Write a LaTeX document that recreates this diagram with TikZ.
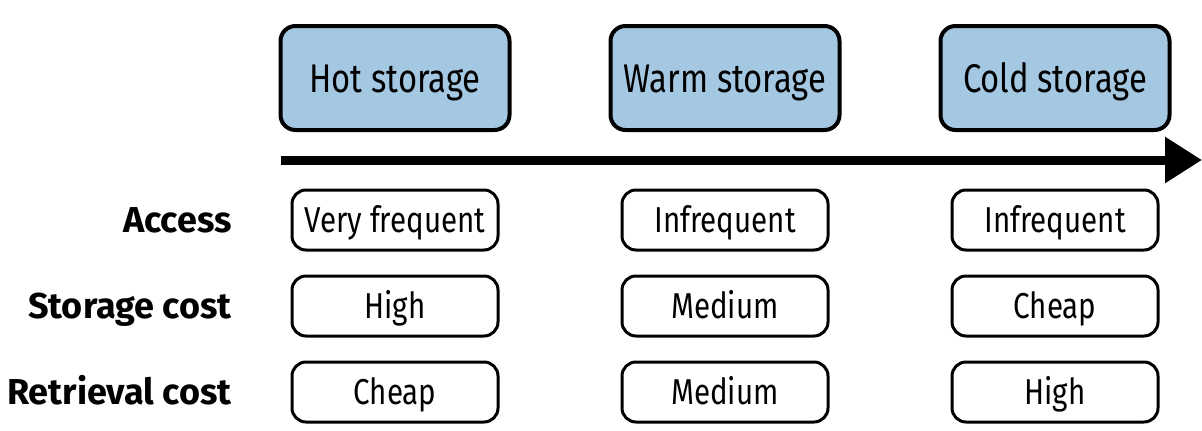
\documentclass[tikz,border=0pt]{standalone}
\usepackage{fontspec}
\setmainfont{Fira Sans}[FakeStretch=0.82]
\newfontfamily\labelfont{Fira Sans}
\usetikzlibrary{arrows.meta,positioning}
\definecolor{tierblue}{RGB}{164,200,226}

\begin{document}
\begin{tikzpicture}[x=1pt,y=-1pt,
    tier/.style={draw,fill=tierblue,line width=4pt,rounded corners=15pt,
      minimum width=229pt,minimum height=104pt,text height=28pt,text depth=0pt,
      font=\fontsize{40}{48}\selectfont},
    cell/.style={draw,line width=3pt,rounded corners=14pt,
      minimum width=206pt,minimum height=60pt,text height=25pt,text depth=0pt,
      font=\fontsize{36}{43}\selectfont},
    rowlabel/.style={anchor=east,inner sep=0pt,text height=25pt,text depth=0pt,
      font=\fontsize{36}{43}\labelfont\bfseries}]
    \useasboundingbox (0,0) rectangle (1202,431);
    % storage tiers
    \foreach \name/\x/\txt in {hot/395/Hot storage,warm/725/Warm storage,cold/1055/Cold storage}
      \node[tier] (\name) at (\x,78) {\txt};
    \coordinate (axisstart) at (281,160);
    \coordinate (axisend) at (1202,160);
    \draw[-{Triangle[length=37pt,width=44pt]},line width=9pt] (axisstart) -- (axisend);
    % properties
    \foreach \row/\y/\lbl/\a/\b/\c in {access/220/Access/Very frequent/Infrequent/Infrequent,
        storage/306/Storage cost/High/Medium/Cheap,
        retrieval/392/Retrieval cost/Cheap/Medium/High} {
      \node[rowlabel] (\row) at (232,\y) {\lbl};
      \node[cell] (\row-hot) at (395,\y) {\a};
      \node[cell] (\row-warm) at (725,\y) {\b};
      \node[cell] (\row-cold) at (1055,\y) {\c};
    }
\end{tikzpicture}
\end{document}
